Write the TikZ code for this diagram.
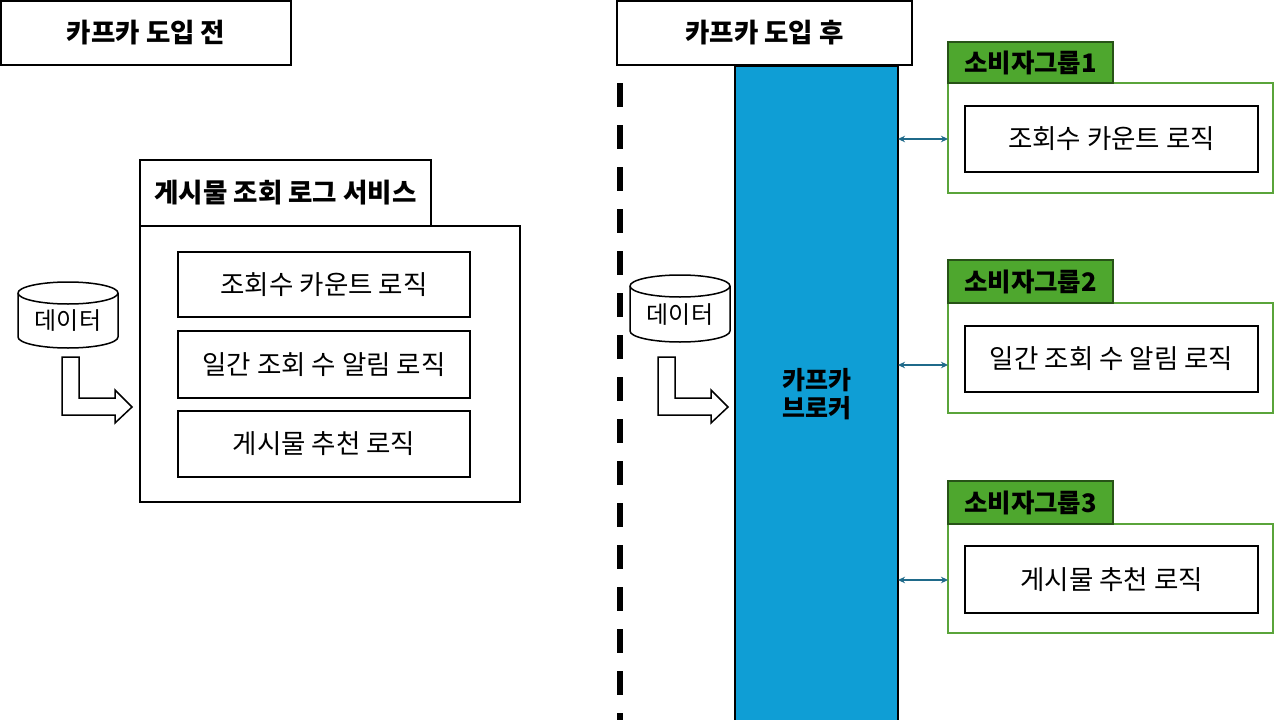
\documentclass[tikz,border=0pt]{standalone}
\usepackage{fontspec}
\setmainfont{Noto Sans CJK KR}
\usetikzlibrary{arrows.meta}
\definecolor{brokerblue}{HTML}{0F9ED5}
\definecolor{gfill}{HTML}{4EA72E}
\definecolor{gdark}{HTML}{275317}
\definecolor{gline}{HTML}{5AA43A}
\definecolor{arrowc}{HTML}{1F6A8A}
\tikzset{
  every node/.style={inner sep=0pt, outer sep=0pt},
  titlebox/.style={draw=black, line width=2.4pt, fill=white, anchor=north west, font=\bfseries\fontsize{26.5pt}{30pt}\selectfont},
  hdrbox/.style={draw=black, line width=2pt, fill=white, anchor=north west, font=\bfseries\fontsize{26.5pt}{30pt}\selectfont},
  outerbox/.style={draw=black, line width=2pt, fill=white, anchor=north west},
  logicbox/.style={draw=black, line width=2pt, fill=white, anchor=north west, font=\fontsize{26.5pt}{30pt}\selectfont},
  ghead/.style={draw=gdark, line width=2.4pt, fill=gfill, anchor=north west, minimum width=165pt, font=\bfseries\fontsize{25.5pt}{28pt}\selectfont},
  gbox/.style={draw=gline, line width=2pt, fill=white, anchor=north west, minimum width=325pt},
  cylshape/.style={line width=1.5pt},
  dbtext/.style={font=\fontsize{24pt}{26pt}\selectfont},
  blockarrow/.style={draw=black, line width=1.5pt, fill=white},
  linkarrow/.style={draw=arrowc, line width=1.6pt, {Stealth[length=7pt,width=6.5pt]}-{Stealth[length=7pt,width=6.5pt]}},
  divider/.style={line width=6pt, dash pattern=on 24pt off 18pt, dash phase=1pt}
}
\begin{document}
\begin{tikzpicture}[x=1pt,y=1pt]
\useasboundingbox (0,0) rectangle (1280,-720);
\fill[white] (0,0) rectangle (1280,-720);

% divider
\coordinate (dtop) at (620,0);
\coordinate (dbot) at (620,-720);
\draw[divider] (dtop) -- (dbot);

% ---------- left: before ----------
\node[titlebox, minimum width=290pt, minimum height=64pt] (t1) at (1,-1) {카프카 도입 전};

\node[hdrbox, minimum width=291pt, minimum height=66pt] (svch) at (140,-160) {게시물 조회 로그 서비스};
\node[outerbox, minimum width=380pt, minimum height=276pt] (svc) at (140,-226) {};
\node[logicbox, minimum width=292pt, minimum height=65pt] (l1) at (178,-252) {조회수 카운트 로직};
\node[logicbox, minimum width=292pt, minimum height=67pt] (l2) at (178,-331) {일간 조회 수 알림 로직};
\node[logicbox, minimum width=292pt, minimum height=66pt] (l3) at (178,-411) {게시물 추천 로직};

% database 1
\node[minimum width=100pt, minimum height=66pt] (db1) at (68,-315) {};
\draw[cylshape] ([yshift=-11pt]db1.north west) -- ([yshift=11pt]db1.south west)
  arc[start angle=180, end angle=360, x radius=50pt, y radius=11pt]
  -- ([yshift=-11pt]db1.north east)
  arc[start angle=0, end angle=180, x radius=50pt, y radius=11pt] -- cycle;
\draw[cylshape] ([yshift=-11pt]db1.north west) arc[start angle=180, end angle=360, x radius=50pt, y radius=11pt];
\node[dbtext] (db1t) at ([yshift=-6pt]db1.center) {데이터};

% bent arrow 1
\draw[blockarrow] (62,-357) -- (79,-357) -- (79,-398) -- (115,-398) -- (115,-390) -- (132,-407) -- (115,-423) -- (115,-415) -- (62,-415) -- cycle;

% ---------- right: after ----------
\node[titlebox, minimum width=295pt, minimum height=64pt] (t2) at (617,-1) {카프카 도입 후};

\node[draw=black, line width=1.5pt, fill=brokerblue, anchor=north west, minimum width=163pt, minimum height=665pt] (broker) at (735,-66) {};
\node[align=center, font=\bfseries\fontsize{25pt}{28pt}\selectfont] (brokert) at (816.5,-394) {카프카\\브로커};

% database 2
\node[minimum width=100pt, minimum height=67pt] (db2) at (680,-308.5) {};
\draw[cylshape] ([yshift=-11pt]db2.north west) -- ([yshift=11pt]db2.south west)
  arc[start angle=180, end angle=360, x radius=50pt, y radius=11pt]
  -- ([yshift=-11pt]db2.north east)
  arc[start angle=0, end angle=180, x radius=50pt, y radius=11pt] -- cycle;
\draw[cylshape] ([yshift=-11pt]db2.north west) arc[start angle=180, end angle=360, x radius=50pt, y radius=11pt];
\node[dbtext] (db2t) at ([yshift=-6pt]db2.center) {데이터};

% bent arrow 2
\draw[blockarrow] (658,-357) -- (675,-357) -- (675,-398) -- (711,-398) -- (711,-390) -- (728,-407) -- (711,-423) -- (711,-415) -- (658,-415) -- cycle;

% consumer group 1
\node[gbox, minimum height=110pt] (g1) at (948,-83) {};
\node[ghead, minimum height=41pt] (g1h) at (948,-42) {소비자그룹1};
\node[logicbox, minimum width=293pt, minimum height=66pt] (g1i) at (965,-106) {조회수 카운트 로직};

% consumer group 2
\node[gbox, minimum height=110pt] (g2) at (948,-303) {};
\node[ghead, minimum height=43pt] (g2h) at (948,-260) {소비자그룹2};
\node[logicbox, minimum width=293pt, minimum height=66pt] (g2i) at (965,-326) {일간 조회 수 알림 로직};

% consumer group 3
\node[gbox, minimum height=109pt] (g3) at (948,-524) {};
\node[ghead, minimum height=43pt] (g3h) at (948,-481) {소비자그룹3};
\node[logicbox, minimum width=293pt, minimum height=67pt] (g3i) at (965,-546) {게시물 추천 로직};

% links broker <-> groups
\coordinate (a1) at (948,-139);
\coordinate (a2) at (948,-365);
\coordinate (a3) at (948,-580);
\draw[linkarrow] (broker.east |- a1) -- (g1.west |- a1);
\draw[linkarrow] (broker.east |- a2) -- (g2.west |- a2);
\draw[linkarrow] (broker.east |- a3) -- (g3.west |- a3);
\end{tikzpicture}
\end{document}
